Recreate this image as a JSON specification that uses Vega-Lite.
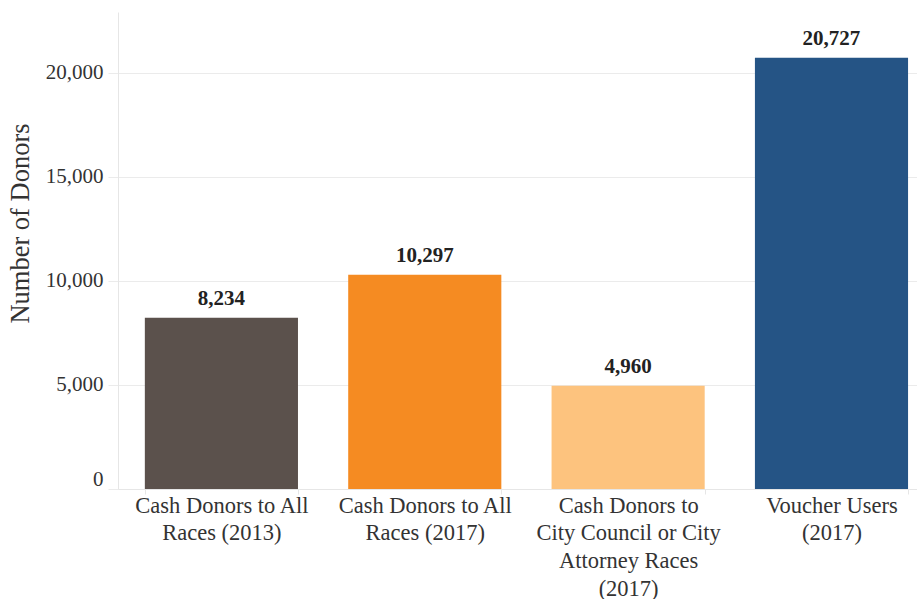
{
  "$schema": "https://vega.github.io/schema/vega-lite/v6.json",
  "autosize": "none",
  "width": 799,
  "height": 477,
  "padding": {"left": 118, "top": 12, "right": 0, "bottom": 110},
  "background": "white",
  "config": {
    "view": {"stroke": null},
    "font": "Liberation Serif"
  },
  "data": {
    "values": [
      {"category": "Cash Donors to All|Races (2013)", "donors": 8234},
      {"category": "Cash Donors to All|Races (2017)", "donors": 10297},
      {"category": "Cash Donors to|City Council or City|Attorney Races|(2017)", "donors": 4960},
      {"category": "Voucher Users|(2017)", "donors": 20727}
    ]
  },
  "encoding": {
    "x": {
      "field": "category",
      "type": "nominal",
      "sort": null,
      "scale": {"paddingInner": 0.247, "paddingOuter": 0.088, "align": 0.75},
      "axis": {
        "title": null,
        "labelAngle": 0,
        "labelExpr": "split(datum.label, '|')",
        "labelFont": "Liberation Serif",
        "labelFontSize": 22.5,
        "labelColor": "#333333",
        "labelLineHeight": 27.7,
        "labelPadding": 0,
        "labelLimit": 300,
        "domainColor": "#e6e6e6",
        "tickColor": "#e6e6e6",
        "tickBand": "extent",
        "tickSize": 5
      }
    },
    "y": {
      "field": "donors",
      "type": "quantitative",
      "scale": {"domain": [0, 22930], "nice": false},
      "axis": {
        "title": "Number of Donors",
        "titleFont": "Liberation Serif",
        "titleFontSize": 26.5,
        "titleFontWeight": "normal",
        "titleColor": "#333333",
        "titleX": -98,
        "titleY": 211,
        "titleAngle": -90,
        "titleAlign": "center",
        "titleBaseline": "middle",
        "values": [0, 5000, 10000, 15000, 20000],
        "format": ",.0f",
        "labelFont": "Liberation Serif",
        "labelFontSize": 21,
        "labelColor": "#333333",
        "labelPadding": 5,
        "labelFlush": true,
        "domainColor": "#e6e6e6",
        "tickColor": "#ebebeb",
        "tickSize": 10,
        "gridColor": "#ebebeb"
      }
    }
  },
  "layer": [
    {
      "mark": {"type": "bar"},
      "encoding": {
        "color": {
          "field": "category",
          "type": "nominal",
          "sort": null,
          "legend": null,
          "scale": {
            "domain": [
              "Cash Donors to All|Races (2013)",
              "Cash Donors to All|Races (2017)",
              "Cash Donors to|City Council or City|Attorney Races|(2017)",
              "Voucher Users|(2017)"
            ],
            "range": ["#5b514c", "#f58b22", "#fdc37e", "#255485"]
          }
        }
      }
    },
    {
      "mark": {
        "type": "text",
        "baseline": "bottom",
        "dy": -9,
        "font": "Liberation Serif",
        "fontSize": 21,
        "fontWeight": "bold",
        "color": "#222222"
      },
      "encoding": {
        "text": {"field": "donors", "type": "quantitative", "format": ","}
      }
    }
  ]
}
